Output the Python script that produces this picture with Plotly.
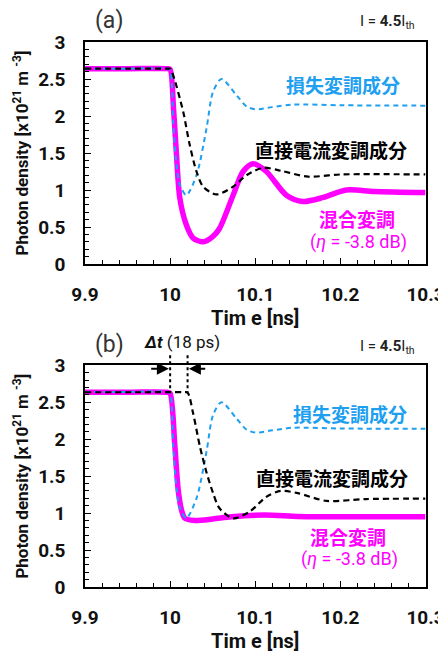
import plotly.graph_objects as go

# ---------------- data ----------------
# Panel (a)
t_mix_a = [9.9, 9.95, 9.997, 10.0, 10.004, 10.0075, 10.0114, 10.019, 10.027, 10.039, 10.05, 10.058,
           10.074, 10.0857, 10.0975, 10.113, 10.1366, 10.156, 10.18, 10.207, 10.24, 10.3]
v_mix_a = [2.64, 2.64, 2.64, 2.63, 2.1, 1.47, 0.89, 0.53, 0.35, 0.30, 0.37, 0.48,
           0.93, 1.25, 1.355, 1.25, 0.93, 0.845, 0.90, 1.0, 0.98, 0.965]

t_loss = [9.9, 9.95, 9.997, 10.0, 10.0036, 10.0075, 10.0114, 10.019, 10.031, 10.0427, 10.0505, 10.0603,
          10.078, 10.0897, 10.1, 10.12, 10.144, 10.2, 10.3]
v_loss = [2.64, 2.64, 2.64, 2.62, 1.92, 1.34, 1.07, 0.93, 1.2, 1.83, 2.33, 2.5,
          2.28, 2.13, 2.09, 2.12, 2.155, 2.145, 2.14]

t_dir_a = [9.9, 9.95, 9.997, 10.0, 10.0036, 10.0153, 10.023, 10.031, 10.0388, 10.0545, 10.074, 10.0897,
           10.109, 10.13, 10.162, 10.2, 10.3]
v_dir_a = [2.64, 2.64, 2.64, 2.64, 2.55, 2.06, 1.61, 1.25, 1.045, 0.94, 1.045, 1.20,
           1.30, 1.26, 1.18, 1.21, 1.21]

# Panel (b)
t_mix_b = [9.9, 9.95, 9.997, 10.0, 10.0056, 10.0095, 10.0134, 10.0173, 10.029, 10.05, 10.072, 10.111,
           10.15, 10.2, 10.3]
v_mix_b = [2.635, 2.635, 2.635, 2.62, 1.90, 1.31, 1.04, 0.93, 0.90, 0.92, 0.95, 0.975,
           0.955, 0.95, 0.95]

t_dir_b = [9.9, 9.96, 10.015, 10.0205, 10.027, 10.035, 10.043, 10.0505, 10.058, 10.074, 10.0935, 10.113,
           10.13, 10.15, 10.1835, 10.23, 10.3]
v_dir_b = [2.635, 2.635, 2.635, 2.63, 2.35, 1.90, 1.54, 1.27, 1.065, 0.93, 1.02, 1.22,
           1.30, 1.27, 1.165, 1.19, 1.195]

x_ticks = [9.9, 10.0, 10.1, 10.2, 10.3]
x_ticklabels = ["9.9", "10", "10.1", "10.2", "10.3"]
y_ticks = [0, 0.5, 1, 1.5, 2, 2.5, 3]
y_ticklabels = ["0", "0.5", "1", "1.5", "2", "2.5", "3"]

delay_start = 10.0
delay_end = 10.0205

MAGENTA = "#FF00FF"
BLUE = "#1E9FF0"
BLACK = "#000000"

# page body has an 8px margin; the figure fills the rest of the window
OFF = 8
W, H = 446 - OFF, 656 - OFF
def px_x(p):
    return (p - OFF) / W
def px_y(p):
    return 1 - (p - OFF) / H

fig = go.Figure()

def add_panel(row_x, row_y, t_mix, v_mix, t_dir, v_dir):
    fig.add_trace(go.Scatter(x=t_mix, y=v_mix, mode="lines", xaxis=row_x, yaxis=row_y,
                             line=dict(color=MAGENTA, width=5.5, shape="spline", smoothing=0.8),
                             showlegend=False))
    fig.add_trace(go.Scatter(x=t_loss, y=v_loss, mode="lines", xaxis=row_x, yaxis=row_y,
                             line=dict(color=BLUE, width=2, dash="5px,4px", shape="spline", smoothing=0.8),
                             showlegend=False))
    fig.add_trace(go.Scatter(x=t_dir, y=v_dir, mode="lines", xaxis=row_x, yaxis=row_y,
                             line=dict(color=BLACK, width=2.2, dash="6px,4px", shape="spline", smoothing=0.8),
                             showlegend=False))

add_panel("x", "y", t_mix_a, v_mix_a, t_dir_a, v_dir_a)
add_panel("x2", "y2", t_mix_b, v_mix_b, t_dir_b, v_dir_b)

FONT = "Roboto, sans-serif"
tickfont = dict(family=FONT, size=19, color="#111", weight="bold")
ytitlefont = dict(family=FONT, size=17, color="#111", weight="bold")
xtitlefont = dict(family=FONT, size=20, color="#111", weight="bold")

xdom = [px_x(85), px_x(425.5)]
ydom_a = [px_y(264), px_y(42)]
ydom_b = [px_y(587), px_y(365.3)]

def xaxis(anchor):
    return dict(domain=xdom, anchor=anchor, range=[9.9, 10.3], tickvals=x_ticks, ticktext=x_ticklabels,
                ticks="inside", ticklen=6, tickwidth=1, tickcolor="#000", automargin=False,
                minor=dict(dtick=0.02, tick0=9.9, ticks="inside", ticklen=4, tickcolor="#000"),
                showline=True, linecolor="#000", linewidth=1.5, mirror=True, showgrid=False, zeroline=False,
                tickfont=tickfont, ticklabelstandoff=12,
                title=dict(text="Tim e [ns]", font=xtitlefont, standoff=5))

def yaxis(anchor, dom):
    return dict(domain=dom, anchor=anchor, range=[0, 3], tickvals=y_ticks, ticktext=y_ticklabels,
                ticks="inside", ticklen=6, tickwidth=1, tickcolor="#000", automargin=False,
                minor=dict(dtick=0.1, tick0=0, ticks="inside", ticklen=4, tickcolor="#000"),
                showline=True, linecolor="#000", linewidth=1.5, mirror=True, showgrid=False, zeroline=False,
                tickfont=tickfont, ticklabelstandoff=14,
                title=dict(text="Photon density [x10<sup>21</sup> m <sup>-3</sup>]", font=ytitlefont, standoff=5))

fig.update_layout(
    width=W, height=H, margin=dict(l=0, r=0, t=0, b=0, autoexpand=False),
    paper_bgcolor="white", plot_bgcolor="white",
    xaxis=xaxis("y"), yaxis=yaxis("x", ydom_a), xaxis2=xaxis("y2"), yaxis2=yaxis("x2", ydom_b),
)

jp = "Noto Sans CJK JP"
annots = []
for lab, yl in [("(a)", 21), ("(b)", 344)]:
    annots.append(dict(text=lab, x=px_x(109), y=px_y(yl), xref="paper", yref="paper", showarrow=False,
                       xanchor="center", yanchor="middle",
                       font=dict(family=FONT, size=23, color="#333")))
for yl in [22, 347]:
    annots.append(dict(text="I = <b>4.5</b>I<sub>th</sub>", x=px_x(387), y=px_y(yl), xref="paper", yref="paper",
                       showarrow=False, xanchor="center", yanchor="middle",
                       font=dict(family=FONT, size=15, color="#222")))

label_y = [(85, 150, 218, 242), (413, 477, 536, 559)]
label_x = [(343, 331, 357, 358), (350, 332, 348, 349)]
for (yl1, yl2, yl3, yl4), (xc1, xc2, xc3, xc4) in zip(label_y, label_x):
    annots.append(dict(text="<b>損失変調成分</b>", x=px_x(xc1), y=px_y(yl1), xref="paper", yref="paper",
                       showarrow=False, xanchor="center", yanchor="middle",
                       font=dict(family=jp, size=19, color=BLUE)))
    annots.append(dict(text="<b>直接電流変調成分</b>", x=px_x(xc2), y=px_y(yl2), xref="paper", yref="paper",
                       showarrow=False, xanchor="center", yanchor="middle",
                       font=dict(family=jp, size=19, color=BLACK)))
    annots.append(dict(text="<b>混合変調</b>", x=px_x(xc3), y=px_y(yl3), xref="paper", yref="paper",
                       showarrow=False, xanchor="center", yanchor="middle",
                       font=dict(family=jp, size=19, color=MAGENTA)))
    annots.append(dict(text="(<i>η</i> = -3.8 dB)", x=px_x(xc4), y=px_y(yl4), xref="paper", yref="paper",
                       showarrow=False, xanchor="center", yanchor="middle",
                       font=dict(family=FONT, size=18, color=MAGENTA)))

annots.append(dict(text="<b><i>Δt</i></b> (18 ps)", x=px_x(182), y=px_y(342), xref="paper", yref="paper",
                   showarrow=False, xanchor="center", yanchor="middle",
                   font=dict(family=FONT, size=17, color="#111")))
annots.append(dict(text="", x=delay_start - 0.0015, y=2.955, xref="x2", yref="y2",
                   ax=9.976, ay=2.955, axref="x2", ayref="y2", showarrow=True,
                   arrowhead=2, arrowsize=1.2, arrowwidth=2, arrowcolor="#000"))
annots.append(dict(text="", x=delay_end + 0.0015, y=2.955, xref="x2", yref="y2",
                   ax=10.043, ay=2.955, axref="x2", ayref="y2", showarrow=True,
                   arrowhead=2, arrowsize=1.2, arrowwidth=2, arrowcolor="#000"))

fig.update_layout(annotations=annots)

shapes = []
for xv in [delay_start, delay_end]:
    shapes.append(dict(type="line", xref="x2", yref="y2 domain", x0=xv, x1=xv, y0=1.045, y1=0.88,
                       line=dict(color="#000", width=2, dash="dot")))
fig.update_layout(shapes=shapes)

fig.write_html("out.html")
